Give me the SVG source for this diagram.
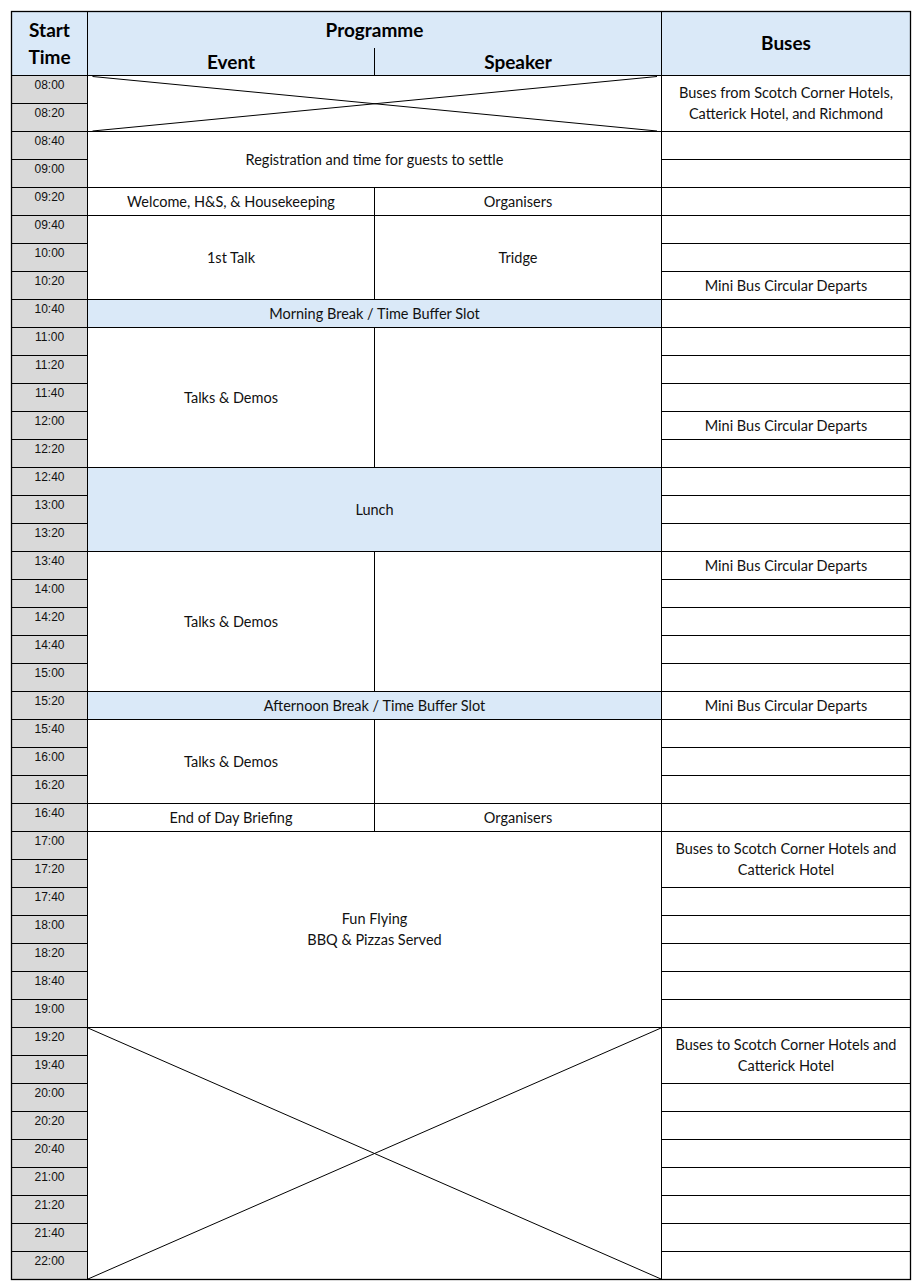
<svg xmlns="http://www.w3.org/2000/svg" width="921" height="1288" viewBox="0 0 921 1288">
<style>
.bg{fill:#ffffff}
.hdr{fill:#dae9f8}
.grey{fill:#d9d9d9}
.blue{fill:#dae9f8}
.ln{stroke:#000;stroke-width:1;fill:none}
.bd{stroke:#000;stroke-width:1.3;fill:none}
.dg{stroke:#000;stroke-width:1;fill:none}
.h{font-family:Lato,"Liberation Sans",sans-serif;font-weight:bold;font-size:19px;fill:#000;text-anchor:middle}
.t{font-family:"Liberation Sans",Arial,sans-serif;font-size:12px;fill:#111;text-anchor:middle}
.c{font-family:Lato,"Liberation Sans",sans-serif;font-size:14.5px;fill:#111;text-anchor:middle}
</style>
<rect class="bg" x="0" y="0" width="921" height="1288"/>
<g id="fills">
<rect class="hdr" x="11.5" y="11.5" width="899" height="64"/>
<rect class="grey" x="11.5" y="75.5" width="76" height="1204"/>
<rect class="blue" x="87.5" y="299.5" width="574" height="28"/>
<rect class="blue" x="87.5" y="467.5" width="574" height="84"/>
<rect class="blue" x="87.5" y="691.5" width="574" height="28"/>
</g>
<g id="grid">
<path class="ln" d="M87.5 11.5V1279.5M661.5 11.5V1279.5M374.5 48V75.5M374.5 187.5V299.5M374.5 327.5V467.5M374.5 551.5V691.5M374.5 719.5V831.5"/>
<path class="ln" d="M11.5 75.5H910.5
M11.5 103.5H87.5M11.5 131.5H87.5M11.5 159.5H87.5M11.5 187.5H87.5M11.5 215.5H87.5M11.5 243.5H87.5M11.5 271.5H87.5M11.5 299.5H87.5M11.5 327.5H87.5M11.5 355.5H87.5M11.5 383.5H87.5M11.5 411.5H87.5M11.5 439.5H87.5M11.5 467.5H87.5M11.5 495.5H87.5M11.5 523.5H87.5M11.5 551.5H87.5M11.5 579.5H87.5M11.5 607.5H87.5M11.5 635.5H87.5M11.5 663.5H87.5M11.5 691.5H87.5M11.5 719.5H87.5M11.5 747.5H87.5M11.5 775.5H87.5M11.5 803.5H87.5M11.5 831.5H87.5M11.5 859.5H87.5M11.5 887.5H87.5M11.5 915.5H87.5M11.5 943.5H87.5M11.5 971.5H87.5M11.5 999.5H87.5M11.5 1027.5H87.5M11.5 1055.5H87.5M11.5 1083.5H87.5M11.5 1111.5H87.5M11.5 1139.5H87.5M11.5 1167.5H87.5M11.5 1195.5H87.5M11.5 1223.5H87.5M11.5 1251.5H87.5"/>
<path class="ln" d="M87.5 131.5H661.5M87.5 187.5H661.5M87.5 215.5H661.5M87.5 299.5H661.5M87.5 327.5H661.5M87.5 467.5H661.5M87.5 551.5H661.5M87.5 691.5H661.5M87.5 719.5H661.5M87.5 803.5H661.5M87.5 831.5H661.5M87.5 1027.5H661.5"/>
<path class="ln" d="M661.5 131.5H910.5M661.5 159.5H910.5M661.5 187.5H910.5M661.5 215.5H910.5M661.5 243.5H910.5M661.5 271.5H910.5M661.5 299.5H910.5M661.5 327.5H910.5M661.5 355.5H910.5M661.5 383.5H910.5M661.5 411.5H910.5M661.5 439.5H910.5M661.5 467.5H910.5M661.5 495.5H910.5M661.5 523.5H910.5M661.5 551.5H910.5M661.5 579.5H910.5M661.5 607.5H910.5M661.5 635.5H910.5M661.5 663.5H910.5M661.5 691.5H910.5M661.5 719.5H910.5M661.5 747.5H910.5M661.5 775.5H910.5M661.5 803.5H910.5M661.5 831.5H910.5M661.5 887.5H910.5M661.5 915.5H910.5M661.5 943.5H910.5M661.5 971.5H910.5M661.5 999.5H910.5M661.5 1027.5H910.5M661.5 1083.5H910.5M661.5 1111.5H910.5M661.5 1139.5H910.5M661.5 1167.5H910.5M661.5 1195.5H910.5M661.5 1223.5H910.5M661.5 1251.5H910.5"/>
<rect class="bd" x="11.5" y="11.5" width="899" height="1268"/>
</g>
<g id="crosses">
<path class="dg" d="M92.5 76.5L657 131M92.5 131L657 76.5"/>
<path class="dg" d="M88 1028L661 1279M661 1028L88 1279"/>
</g>
<g id="header">
<text class="h" x="49.5" y="37">Start</text>
<text class="h" x="49.5" y="63.5">Time</text>
<text class="h" x="374.5" y="37">Programme</text>
<text class="h" x="231" y="69">Event</text>
<text class="h" x="518" y="69">Speaker</text>
<text class="h" x="786" y="50">Buses</text>
</g>
<g id="times">
<text class="t" x="49.5" y="89.3">08:00</text>
<text class="t" x="49.5" y="117.3">08:20</text>
<text class="t" x="49.5" y="145.3">08:40</text>
<text class="t" x="49.5" y="173.3">09:00</text>
<text class="t" x="49.5" y="201.3">09:20</text>
<text class="t" x="49.5" y="229.3">09:40</text>
<text class="t" x="49.5" y="257.3">10:00</text>
<text class="t" x="49.5" y="285.3">10:20</text>
<text class="t" x="49.5" y="313.3">10:40</text>
<text class="t" x="49.5" y="341.3">11:00</text>
<text class="t" x="49.5" y="369.3">11:20</text>
<text class="t" x="49.5" y="397.3">11:40</text>
<text class="t" x="49.5" y="425.3">12:00</text>
<text class="t" x="49.5" y="453.3">12:20</text>
<text class="t" x="49.5" y="481.3">12:40</text>
<text class="t" x="49.5" y="509.3">13:00</text>
<text class="t" x="49.5" y="537.3">13:20</text>
<text class="t" x="49.5" y="565.3">13:40</text>
<text class="t" x="49.5" y="593.3">14:00</text>
<text class="t" x="49.5" y="621.3">14:20</text>
<text class="t" x="49.5" y="649.3">14:40</text>
<text class="t" x="49.5" y="677.3">15:00</text>
<text class="t" x="49.5" y="705.3">15:20</text>
<text class="t" x="49.5" y="733.3">15:40</text>
<text class="t" x="49.5" y="761.3">16:00</text>
<text class="t" x="49.5" y="789.3">16:20</text>
<text class="t" x="49.5" y="817.3">16:40</text>
<text class="t" x="49.5" y="845.3">17:00</text>
<text class="t" x="49.5" y="873.3">17:20</text>
<text class="t" x="49.5" y="901.3">17:40</text>
<text class="t" x="49.5" y="929.3">18:00</text>
<text class="t" x="49.5" y="957.3">18:20</text>
<text class="t" x="49.5" y="985.3">18:40</text>
<text class="t" x="49.5" y="1013.3">19:00</text>
<text class="t" x="49.5" y="1041.3">19:20</text>
<text class="t" x="49.5" y="1069.3">19:40</text>
<text class="t" x="49.5" y="1097.3">20:00</text>
<text class="t" x="49.5" y="1125.3">20:20</text>
<text class="t" x="49.5" y="1153.3">20:40</text>
<text class="t" x="49.5" y="1181.3">21:00</text>
<text class="t" x="49.5" y="1209.3">21:20</text>
<text class="t" x="49.5" y="1237.3">21:40</text>
<text class="t" x="49.5" y="1265.3">22:00</text>
</g>
<g id="programme">
<text class="c" x="374.5" y="165">Registration and time for guests to settle</text>
<text class="c" x="231" y="207">Welcome, H&amp;S, &amp; Housekeeping</text>
<text class="c" x="518" y="207">Organisers</text>
<text class="c" x="231" y="263">1st Talk</text>
<text class="c" x="518" y="263">Tridge</text>
<text class="c" x="374.5" y="319">Morning Break / Time Buffer Slot</text>
<text class="c" x="231" y="403">Talks &amp; Demos</text>
<text class="c" x="374.5" y="515">Lunch</text>
<text class="c" x="231" y="627">Talks &amp; Demos</text>
<text class="c" x="374.5" y="711">Afternoon Break / Time Buffer Slot</text>
<text class="c" x="231" y="767">Talks &amp; Demos</text>
<text class="c" x="231" y="823">End of Day Briefing</text>
<text class="c" x="518" y="823">Organisers</text>
<text class="c" x="374.5" y="923.5">Fun Flying</text>
<text class="c" x="374.5" y="944.5">BBQ &amp; Pizzas Served</text>
</g>
<g id="buses">
<text class="c" x="786" y="98">Buses from Scotch Corner Hotels,</text>
<text class="c" x="786" y="119">Catterick Hotel, and Richmond</text>
<text class="c" x="786" y="291">Mini Bus Circular Departs</text>
<text class="c" x="786" y="431">Mini Bus Circular Departs</text>
<text class="c" x="786" y="571">Mini Bus Circular Departs</text>
<text class="c" x="786" y="711">Mini Bus Circular Departs</text>
<text class="c" x="786" y="853.5">Buses to Scotch Corner Hotels and</text>
<text class="c" x="786" y="874.5">Catterick Hotel</text>
<text class="c" x="786" y="1049.5">Buses to Scotch Corner Hotels and</text>
<text class="c" x="786" y="1070.5">Catterick Hotel</text>
</g>
</svg>
